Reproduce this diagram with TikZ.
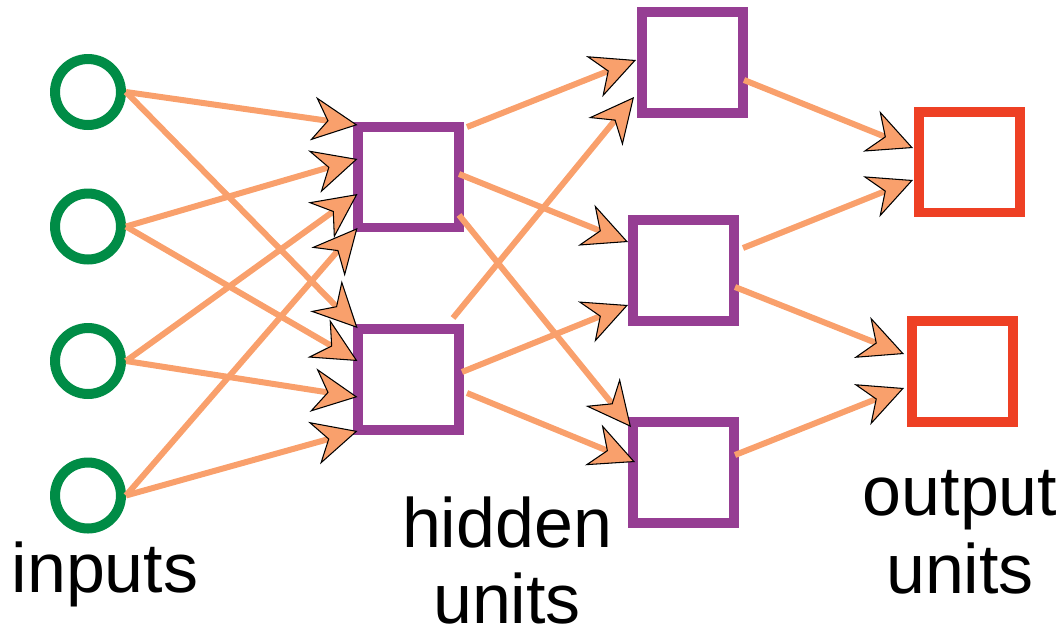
\documentclass[tikz,border=0pt]{standalone}
\usepackage{fontspec}
\setmainfont{Liberation Sans}
\usetikzlibrary{arrows.meta,calc}
\definecolor{ingreen}{HTML}{008C46}
\definecolor{hidpurple}{HTML}{963E93}
\definecolor{outred}{HTML}{EE4024}
\definecolor{linkorange}{HTML}{F9A06C}
\begin{document}
\begin{tikzpicture}[x=0.02cm,y=-0.02cm,
  inunit/.style={circle,draw=ingreen,line width=0.2cm,minimum size=1.32cm,inner sep=0pt},
  hidunit/.style={rectangle,draw=hidpurple,line width=0.2cm,minimum size=2.02cm,inner sep=0pt},
  outunit/.style={rectangle,draw=outred,line width=0.2cm,minimum size=2.02cm,inner sep=0pt},
  link/.style={draw=linkorange,line width=0.12cm,
    -{Stealth[length=0.9cm,width=0.88cm,inset=0.29cm,line width=0.6pt,color=black,fill=linkorange]}},
  lbl/.style={font=\fontsize{39.8}{#1}\selectfont,align=center,inner sep=0pt,anchor=base},
  lbl/.default=44pt]
\useasboundingbox (0,0) rectangle (1061,637);

% units
\node[inunit] (in1) at (88,92) {};
\node[inunit] (in2) at (88,226.5) {};
\node[inunit] (in3) at (88,361) {};
\node[inunit] (in4) at (88,495.5) {};

\node[hidunit] (h1) at (408.5,177) {};
\node[hidunit] (h2) at (408.5,379) {};

\node[hidunit] (ht) at (692,62.5) {};
\node[hidunit] (hm) at (683.5,270) {};
\node[hidunit] (hb) at (683.5,472.5) {};

\node[outunit] (o1) at (969.5,162) {};
\node[outunit] (o2) at (962.5,371.5) {};

% labels (base = baseline of the last line)
\node[lbl] (inputs) at (105,592) {inputs};
\node[lbl=42.7pt] (hidden) at (507,623) {hidden\\units};
\node[lbl=44.4pt] (output) at (960,593) {output\\units};

% attachment points
\coordinate (h1a) at ($(h1.center)+(-51,-52)$);
\coordinate (h1b) at ($(h1.center)+(-51,-18)$);
\coordinate (h1c) at ($(h1.center)+(-51,17)$);
\coordinate (h1d) at ($(h1.center)+(-51,51)$);
\coordinate (h2a) at ($(h2.center)+(-51,-51)$);
\coordinate (h2b) at ($(h2.center)+(-51,-18)$);
\coordinate (h2c) at ($(h2.center)+(-51,18)$);
\coordinate (h2d) at ($(h2.center)+(-51,52)$);

\coordinate (h1o1) at ($(h1.center)+(58.5,-50)$);
\coordinate (h1o2) at ($(h1.center)+(50.5,-3)$);
\coordinate (h1o3) at ($(h1.center)+(50.5,38)$);
\coordinate (h2o1) at ($(h2.center)+(44.5,-61)$);
\coordinate (h2o2) at ($(h2.center)+(53.5,-7)$);
\coordinate (h2o3) at ($(h2.center)+(58.5,14)$);

\coordinate (hta) at ($(ht.center)+(-56,-2.5)$);
\coordinate (htb) at ($(ht.center)+(-58,34.5)$);
\coordinate (hma) at ($(hm.center)+(-55.5,-28)$);
\coordinate (hmb) at ($(hm.center)+(-55.5,35)$);
\coordinate (hba) at ($(hb.center)+(-52.5,-45.5)$);
\coordinate (hbb) at ($(hb.center)+(-48.5,-10.5)$);

\coordinate (hto) at ($(ht.center)+(52,17.5)$);
\coordinate (hmo1) at ($(hm.center)+(59.5,-22)$);
\coordinate (hmo2) at ($(hm.center)+(51.5,17)$);
\coordinate (hbo) at ($(hb.center)+(51.5,-17.5)$);

\coordinate (o1a) at ($(o1.center)+(-56.5,-14)$);
\coordinate (o1b) at ($(o1.center)+(-56.5,18)$);
\coordinate (o2a) at ($(o2.center)+(-58.5,-17.5)$);
\coordinate (o2b) at ($(o2.center)+(-58.5,16.5)$);

% inputs -> hidden layer 1
\draw[link] (in1.east) -- (h1a);
\draw[link] (in2.east) -- (h1b);
\draw[link] (in3.east) -- (h1c);
\draw[link] (in4.east) -- (h1d);
\draw[link] (in1.east) -- (h2a);
\draw[link] (in2.east) -- (h2b);
\draw[link] (in3.east) -- (h2c);
\draw[link] (in4.east) -- (h2d);

% hidden layer 1 -> hidden layer 2
\draw[link] (h1o1) -- (hta);
\draw[link] (h1o2) -- (hma);
\draw[link] (h1o3) -- (hba);
\draw[link] (h2o1) -- (htb);
\draw[link] (h2o2) -- (hmb);
\draw[link] (h2o3) -- (hbb);

% hidden layer 2 -> outputs
\draw[link] (hto) -- (o1a);
\draw[link] (hmo1) -- (o1b);
\draw[link] (hmo2) -- (o2a);
\draw[link] (hbo) -- (o2b);
\end{tikzpicture}
\end{document}
